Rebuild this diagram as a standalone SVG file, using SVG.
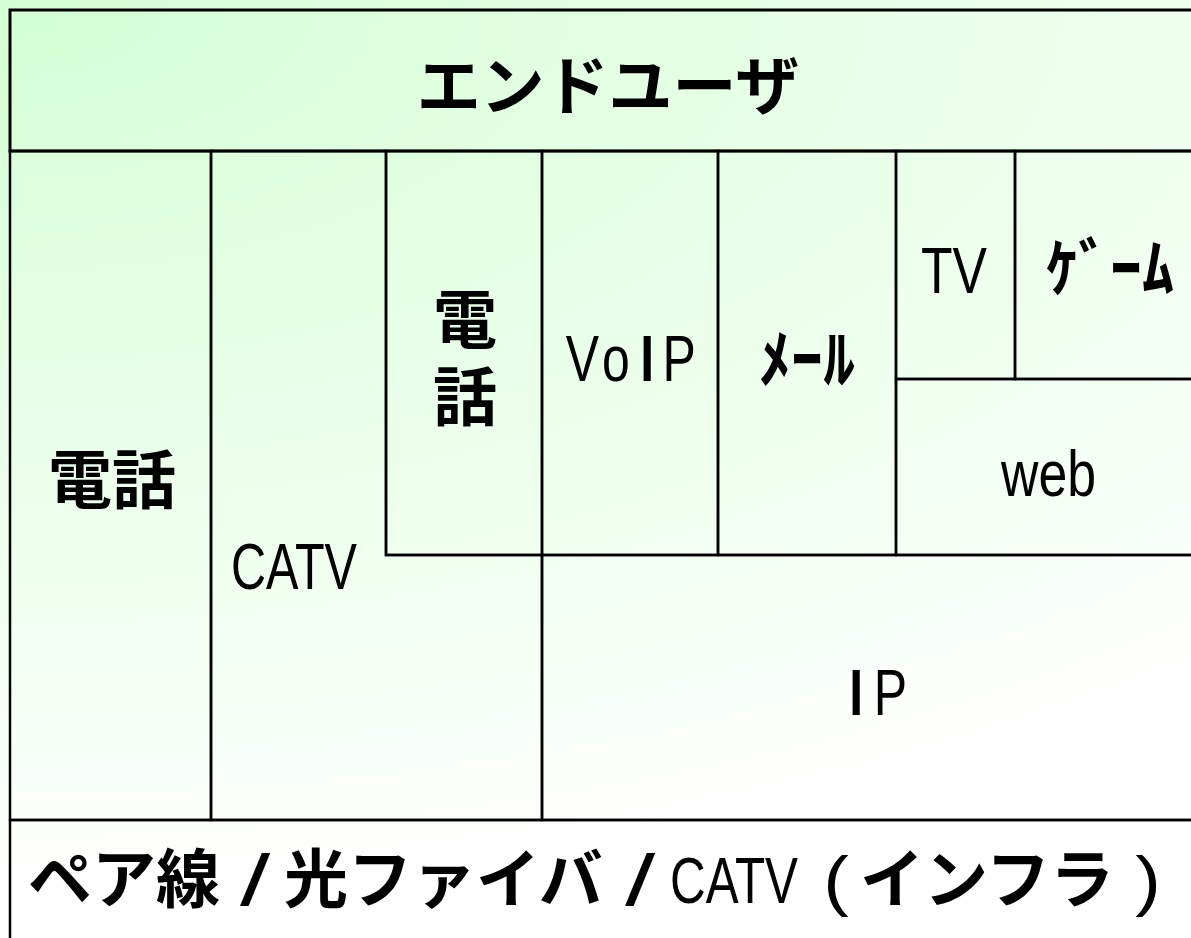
<svg xmlns="http://www.w3.org/2000/svg" width="1191" height="938" viewBox="0 0 1191 938">
<defs>
<radialGradient id="bg" gradientUnits="userSpaceOnUse" cx="0" cy="0" r="1" gradientTransform="translate(0 0) scale(1900 900)">
<stop offset="0" stop-color="#D4FFD4"/>
<stop offset="1" stop-color="#FFFFFF"/>
</radialGradient>
<style>
.cell{fill:none;stroke:#000;stroke-width:2.5}
.jp{font-family:"Noto Sans CJK JP","Noto Sans",sans-serif;font-weight:700;font-size:64px;fill:#000}
.lt{font-family:"Liberation Sans",Arial,sans-serif;font-weight:400;font-size:64px;fill:#000}
.b{font-weight:700}
.mid{text-anchor:middle}
</style>
</defs>
<rect x="0" y="0" width="1191" height="938" fill="url(#bg)"/>
<g id="connectors"></g>
<g id="enduser">
<rect class="cell" x="10" y="10" width="1196" height="141" style="stroke-width:3"/>
<text class="jp mid" x="608" y="109">エンドユーザ</text>
</g>
<g id="phone">
<rect class="cell" x="10" y="151" width="201" height="669"/>
<text class="jp mid" x="112" y="503">電話</text>
</g>
<g id="catv">
<path class="cell" d="M211 151 H386 V555 H542 V820 H211 Z"/>
<text class="lt" x="231" y="589" textLength="126" lengthAdjust="spacingAndGlyphs">CATV</text>
</g>
<g id="phone2">
<rect class="cell" x="386" y="151" width="156" height="404"/>
<text class="jp mid"><tspan x="465" y="343">電</tspan><tspan x="465" y="420">話</tspan></text>
</g>
<g id="voip">
<rect class="cell" x="542" y="151" width="176" height="404"/>
<text class="lt mid" transform="translate(630 381) scale(0.78 1)"><tspan x="-61">V</tspan><tspan x="-18">o</tspan><tspan x="22" class="b">I</tspan><tspan x="63">P</tspan></text>
</g>
<g id="mail">
<rect class="cell" x="718" y="151" width="178" height="404"/>
<text class="jp mid" x="807" y="382">ﾒｰﾙ</text>
</g>
<g id="tv">
<rect class="cell" x="896" y="151" width="119" height="228"/>
<text class="lt" x="921" y="293" textLength="66" lengthAdjust="spacingAndGlyphs">TV</text>
</g>
<g id="game">
<rect class="cell" x="1015" y="151" width="191" height="228"/>
<text class="jp mid" x="1110" y="291">ｹﾞｰﾑ</text>
</g>
<g id="web">
<rect class="cell" x="896" y="379" width="310" height="176"/>
<text class="lt" x="1001" y="496" textLength="95" lengthAdjust="spacingAndGlyphs">web</text>
</g>
<g id="ip">
<rect class="cell" x="542" y="555" width="664" height="265"/>
<text class="lt mid" transform="translate(874 715) scale(0.78 1)"><tspan x="-23" class="b">I</tspan><tspan x="21">P</tspan></text>
</g>
<g id="infra">
<rect class="cell" x="10" y="820" width="1196" height="140"/>
<text class="jp" x="28" y="902">ペア線</text>
<text class="lt mid" transform="translate(255 905) scale(1.7 1.12)">/</text>
<text class="jp" x="284" y="902">光ファイバ</text>
<text class="lt mid" transform="translate(640 905) scale(1.7 1.12)">/</text>
<text class="lt" x="670" y="903" textLength="128" lengthAdjust="spacingAndGlyphs">CATV</text>
<text class="lt mid" transform="translate(836 903) scale(1.2 1.05)">(</text>
<text class="jp" x="860" y="902">インフラ</text>
<text class="lt mid" transform="translate(1148 903) scale(1.2 1.05)">)</text>
</g>
</svg>
